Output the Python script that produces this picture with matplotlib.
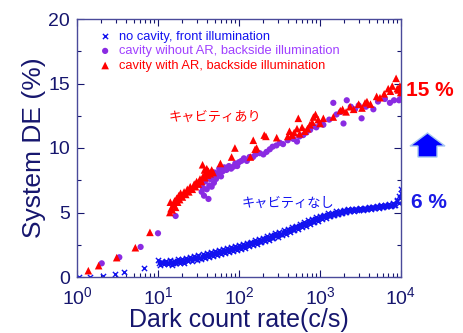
import matplotlib
matplotlib.use("Agg")
import matplotlib.pyplot as plt
from matplotlib.patches import Polygon

plt.rcParams['font.family'] = ['Liberation Sans', 'Noto Sans CJK JP', 'DejaVu Sans']
plt.rcParams['mathtext.fontset'] = 'custom'
plt.rcParams['mathtext.rm'] = 'Liberation Sans'

NAVY = '#16166e'
SPINE = '#4a4a9a'
BLUE = '#1212f0'
PURPLE = '#8a2be2'
RED = '#ff0000'

# ---------------- data ----------------
blue_sparse_x = [1.07, 1.45, 2.07, 2.95, 3.8, 6.7]
blue_sparse_y = [0.02, 0.02, 0.05, 0.2, 0.36, 0.7]

blue_d1_x = [10, 10.6, 11.2, 11.9, 12.6, 13.3, 14.1, 15.0, 15.8, 16.8, 17.8, 18.8, 20.0, 21.1, 22.4, 23.7,
             25.1, 26.6, 28.2, 29.9, 31.6, 33.5, 35.5, 37.6, 39.8, 42.2, 44.7, 47.3, 50.1, 53.1, 56.2, 59.6,
             63.1, 66.8, 70.8, 75.0, 79.4, 84.1, 89.1, 94.4]
blue_d1_y = [1.28, 0.95, 1.20, 0.98, 1.25, 1.02, 1.30, 0.96, 1.22, 1.05, 1.38, 1.08, 1.42, 1.12, 1.50, 1.21,
             1.58, 1.27, 1.66, 1.33, 1.72, 1.40, 1.80, 1.47, 1.85, 1.58, 1.95, 1.63, 2.02, 1.70, 2.10, 1.77,
             2.18, 1.84, 2.24, 1.93, 2.30, 2.02, 2.38, 2.08]
blue_e1_x = [10.3, 10.9, 11.5, 12.2, 13.0, 13.7, 14.5, 15.4, 16.3, 17.3, 18.3, 19.4, 20.5, 21.7, 23.0, 24.4,
             25.8, 27.4, 29.0, 30.7, 32.5, 34.5, 36.5, 38.7, 41.0, 43.4, 46.0, 48.7, 51.6, 54.7, 57.9, 61.3,
             65.0, 68.8, 72.9, 77.2, 81.8, 86.6, 91.8, 97.2]
blue_e1_y = [1.05, 1.16, 1.08, 1.20, 1.12, 1.06, 1.18, 1.10, 1.12, 1.24, 1.16, 1.28, 1.20, 1.34, 1.28, 1.42,
             1.36, 1.50, 1.43, 1.57, 1.50, 1.64, 1.58, 1.72, 1.65, 1.80, 1.73, 1.88, 1.80, 1.95, 1.88, 2.02,
             1.95, 2.10, 2.03, 2.17, 2.10, 2.25, 2.18, 2.32]
blue_d2_x = [100, 106, 112, 119, 126, 133, 141, 150, 158, 168, 178, 188, 200, 211, 224, 237,
             251, 266, 282, 299, 316, 335, 355, 376, 398, 422, 447, 473, 501, 531, 562, 596,
             631, 668, 708, 750, 794, 841, 891, 944]
blue_d2_y = [2.45, 2.18, 2.52, 2.26, 2.63, 2.38, 2.74, 2.47, 2.86, 2.58, 2.95, 2.70, 3.06, 2.79, 3.17, 2.88,
             3.26, 2.99, 3.38, 3.12, 3.50, 3.22, 3.63, 3.36, 3.74, 3.48, 3.87, 3.61, 3.99, 3.74, 4.12, 3.86,
             4.25, 3.97, 4.38, 4.10, 4.50, 4.24, 4.62, 4.37]
blue_e2_x = [103, 109, 115, 122, 130, 137, 145, 154, 163, 173, 183, 194, 205, 217, 230, 244,
             258, 274, 290, 307, 325, 345, 365, 387, 410, 434, 460, 487, 516, 547, 579, 613,
             650, 688, 729, 772, 818, 866, 918, 972]
blue_e2_y = [2.26, 2.40, 2.36, 2.50, 2.45, 2.60, 2.55, 2.70, 2.65, 2.80, 2.75, 2.90, 2.85, 3.00, 2.95, 3.10,
             3.06, 3.22, 3.18, 3.34, 3.30, 3.46, 3.42, 3.59, 3.55, 3.72, 3.67, 3.85, 3.80, 3.97, 3.93, 4.10,
             4.05, 4.22, 4.18, 4.35, 4.30, 4.47, 4.43, 4.60]
blue_d3_x = [1000, 1060, 1120, 1190, 1260, 1330, 1410, 1500, 1580, 1680, 1780, 1880, 2000, 2110, 2240, 2370,
             2510, 2660, 2820, 2990, 3160, 3350, 3550, 3760, 3980, 4220, 4470, 4730, 5010, 5310, 5620, 5960,
             6310, 6680, 7080, 7500, 7940, 8410, 8910, 9440, 9000, 9500, 9800, 9900, 9950]
blue_d3_y = [4.74, 4.48, 4.82, 4.58, 4.93, 4.70, 5.00, 4.80, 5.08, 4.88, 5.14, 4.95, 5.20, 5.02, 5.24, 5.08,
             5.28, 5.13, 5.30, 5.17, 5.33, 5.20, 5.38, 5.24, 5.42, 5.28, 5.46, 5.32, 5.50, 5.38, 5.56, 5.42,
             5.60, 5.48, 5.66, 5.52, 5.74, 5.58, 5.90, 5.70, 5.95, 6.30, 6.10, 6.50, 6.85]
blue_e3_x = [1030, 1090, 1150, 1220, 1300, 1370, 1450, 1540, 1630, 1730, 1830, 1940, 2050, 2170, 2300, 2440,
             2580, 2740, 2900, 3070, 3250, 3450, 3650, 3870, 4100, 4340, 4600, 4870, 5160, 5470, 5790, 6130,
             6500, 6880, 7290, 7720, 8180]
blue_e3_y = [4.56, 4.72, 4.66, 4.80, 4.75, 4.89, 4.83, 4.96, 4.92, 5.04, 5.00, 5.12, 5.06, 5.17, 5.12, 5.22,
             5.18, 5.26, 5.21, 5.28, 5.24, 5.31, 5.28, 5.36, 5.32, 5.40, 5.36, 5.44, 5.40, 5.48, 5.45, 5.52,
             5.50, 5.57, 5.54, 5.62, 5.60]

purple_x = [2.02, 3.33, 6.1, 10.0, 16.5,
            33, 34.6, 36, 37, 38, 40, 42, 43, 44, 46, 47, 49, 50, 52, 54, 55.6, 57, 60, 63, 66, 70, 75, 80,
            85, 90, 95, 100, 107, 115, 125, 135, 149, 160, 180, 200, 219, 240, 260, 290, 320, 350, 400, 470,
            520, 560, 620, 680, 755, 820, 900, 1000, 1100, 1300, 1460, 1600, 1800, 1950, 2140, 2400, 2700,
            3000, 3260, 3700, 4560, 5200, 6330, 7300, 8200, 9440, 9800]
purple_y = [1.06, 1.53, 2.33, 3.39, 4.73,
            7.2, 6.6, 6.9, 6.3, 7.4, 6.8, 6.05, 7.1, 7.6, 7.0, 7.8, 7.3, 8.1, 7.6, 7.9, 8.0, 8.4, 7.8, 8.2,
            8.5, 8.3, 8.6, 8.4, 8.55, 8.8, 8.6, 8.9, 9.0, 9.2, 9.0, 9.3, 9.3, 9.5, 9.6, 9.5, 9.7, 9.9, 10.1,
            10.2, 10.4, 10.3, 10.6, 10.7, 10.5, 10.9, 11.0, 11.2, 11.4, 11.7, 11.6, 11.9, 11.8, 12.2, 13.5,
            12.6, 12.8, 11.9, 13.7, 13.2, 13.0, 13.3, 12.3, 13.2, 13.0, 13.6, 13.8, 13.5, 13.7, 13.7, 13.8]

red_x = [1.38, 1.85, 3.09, 5.25, 7.95,
         14.0, 14.5, 14.2, 15.0, 15.5, 16.0, 16.5, 17.0, 17.5, 18.0, 18.5, 19.0, 20.0, 21.0, 22.0, 23.0,
         24.0, 25.0, 26.5, 28.0, 29.0, 30.0, 31.5, 33.0, 34.5, 35.5, 36.0, 37.5, 38.0, 39.0, 40.0, 41.0,
         42.0, 44.0, 46.0, 48.0,
         59, 81, 89, 138, 150, 158, 165, 205, 215, 292, 400, 420, 450, 480, 520, 540, 560, 600, 650, 700,
         750, 800, 830, 880, 950, 1000, 1100, 1460, 1780, 1900, 2100, 2350, 2600, 3000, 3300, 3600,
         3800, 4200, 5000, 5500, 6200, 6950, 7400, 7800, 8700, 9000, 9300, 9700, 9900]
red_y = [0.49, 0.88, 1.5, 2.27, 3.46,
         5.0, 5.3, 5.8, 5.2, 5.6, 5.9, 5.4, 6.1, 5.8, 6.3, 6.0, 6.5, 6.2, 6.6, 6.4, 6.8,
         6.6, 7.0, 6.8, 7.2, 7.0, 7.4, 7.2, 7.6, 7.4, 8.7, 7.8, 8.3, 7.7, 8.1, 8.4, 7.9,
         8.2, 8.0, 8.3, 8.1,
         8.8, 9.3, 10.0, 9.3, 10.6, 9.9, 10.0, 11.0, 10.9, 10.8, 10.9, 11.3, 11.0, 11.2, 11.5, 12.3, 11.1,
         11.6, 11.3, 11.5, 11.8, 12.0, 12.4, 12.6, 12.2, 11.9, 12.3, 12.4, 12.9, 13.0, 12.8, 13.2, 13.0,
         13.4, 13.1, 13.5, 13.6, 13.4, 14.0, 13.9, 14.2, 14.6, 14.4, 14.8, 15.4, 14.6, 14.5, 14.8, 14.3]

legend_labels = ['no cavity, front illumination',
                 'cavity wihout AR, backside illumination',
                 'cavity with AR, backside illumination']
x_ticks = [1, 10, 100, 1000, 10000]
x_ticklabels = ['$10^0$', '$10^1$', '$10^2$', '$10^3$', '$10^4$']
y_ticks = [0, 5, 10, 15, 20]

# ---------------- plot ----------------
fig = plt.figure(figsize=(4.63, 3.33), dpi=100)
ax = fig.add_axes([77/463, 1 - 277/333, 324/463, 258/333])

bx = blue_sparse_x + blue_d1_x + blue_e1_x + blue_d2_x + blue_e2_x + blue_d3_x + blue_e3_x
by = blue_sparse_y + blue_d1_y + blue_e1_y + blue_d2_y + blue_e2_y + blue_d3_y + blue_e3_y
h1 = ax.scatter(bx, by, marker='x', s=14, c=BLUE, linewidths=1.0, zorder=2)
h2 = ax.scatter(purple_x, purple_y, marker='o', s=20, c=PURPLE, edgecolors='none', zorder=3)
h3 = ax.scatter(red_x, red_y, marker='^', s=30, c=RED, edgecolors='none', zorder=4)

ax.set_xscale('log')
ax.set_xlim(1, 1e4)
ax.set_ylim(0, 20)
ax.set_xticks(x_ticks)
ax.set_xticklabels(x_ticklabels)
ax.set_yticks(y_ticks)
ax.set_yticks([2.5, 7.5, 12.5, 17.5], minor=True)

ax.tick_params(which='both', direction='in', top=True, right=True, colors=NAVY,
               labelcolor=NAVY, labelsize=14, width=0.8)
ax.tick_params(which='major', length=5)
ax.tick_params(axis='x', which='major', pad=7)
ax.tick_params(axis='y', which='major', pad=5)
ax.tick_params(which='minor', length=3)
for lab in ax.get_yticklabels():
    lab.set_verticalalignment('center_baseline')
for s in ax.spines.values():
    s.set_color(SPINE)
    s.set_linewidth(1.0)

ax.set_xlabel('Dark count rate(c/s)', fontsize=18, color=NAVY, labelpad=-1)
ax.set_ylabel('System DE (%)', fontsize=19, color=NAVY, labelpad=2)

leg = ax.legend([h1, h2, h3], legend_labels, loc='upper left', frameon=False,
                fontsize=9.3, handletextpad=0.5, borderaxespad=0.3, labelspacing=0.2,
                handlelength=1.2, bbox_to_anchor=(0.035, 0.99))
for t, col in zip(leg.get_texts(), [BLUE, '#a040ff', RED]):
    t.set_color(col)

jp = ['Noto Sans CJK JP', 'DejaVu Sans']
ax.text(0.425, 0.62, 'キャビティあり', transform=ax.transAxes, color=RED,
        fontsize=9.5, family=jp, ha='center', va='center')
ax.text(0.65, 0.286, 'キャビティなし', transform=ax.transAxes, color=BLUE,
        fontsize=9.5, family=jp, ha='center', va='center')

fig.text(430/463, 1 - 91/333, '15 %', color=RED, fontsize=15, fontweight='bold',
         ha='center', va='center')
fig.text(429/463, 1 - 203/333, '6 %', color='#1a1ae6', fontsize=15, fontweight='bold',
         ha='center', va='center')

arrow_pts = [(410, 146), (427.5, 133), (445, 146), (437, 146), (437, 157), (418, 157), (418, 146)]
poly = Polygon([(px/463, 1 - py/333) for px, py in arrow_pts], closed=True,
               transform=fig.transFigure, facecolor='#0000ff', edgecolor='#a8c8f0', linewidth=1.0)
fig.patches.append(poly)

fig.savefig('out.png', dpi=100)
